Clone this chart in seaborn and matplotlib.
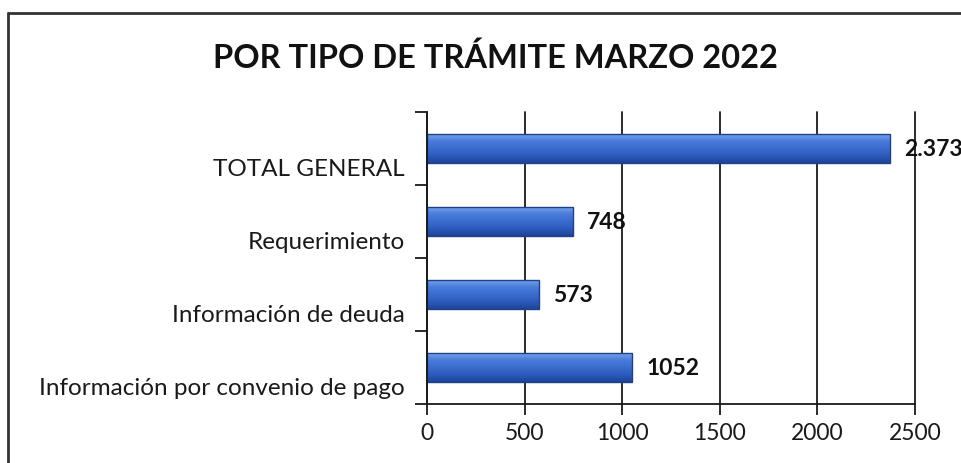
import matplotlib
matplotlib.use("Agg")
import matplotlib.pyplot as plt
import matplotlib.lines as mlines
import matplotlib.transforms as mtransforms
from matplotlib.colors import LinearSegmentedColormap
from matplotlib.ticker import FixedLocator
import numpy as np
import pandas as pd
import seaborn as sns

# data
categories = ["TOTAL GENERAL", "Requerimiento", "Información de deuda",
              "Información por convenio de pago"]
values = [2373, 748, 573, 1052]
value_labels = ["2.373", "748", "573", "1052"]
x_ticks = [0, 500, 1000, 1500, 2000, 2500]
title = "POR TIPO DE TRÁMITE MARZO 2022"

sns.set_style("white")
plt.rcParams["font.family"] = ["Lato", "DejaVu Sans"]

df = pd.DataFrame({"tramite": categories, "cantidad": values})

fig = plt.figure(figsize=(9.61, 4.64), dpi=100)
ax = fig.add_axes([427 / 961, 1 - 405 / 464, 488 / 961, 292 / 464])

sns.barplot(data=df, x="cantidad", y="tramite", order=categories, ax=ax,
            color="#3a6ccc", edgecolor="#1e4288", linewidth=1.0,
            width=0.40, saturation=1)

ax.set_xlim(0, 2500)
ax.set_ylim(3.5, -0.5)
ax.xaxis.set_major_locator(FixedLocator(x_ticks))
ax.set_xticklabels([str(t) for t in x_ticks], fontsize=16.5)
ax.set_xlabel("")
ax.set_ylabel("")

# glossy vertical gradient on each bar, clipped to the bar itself
bar_cmap = LinearSegmentedColormap.from_list(
    "bar", ["#7fa8ee", "#4a7ddb", "#3a6dcf", "#2d5bbd", "#1f4499"])
grad = np.linspace(0, 1, 64).reshape(-1, 1)
for patch in list(ax.patches):
    bb = patch.get_bbox()
    im = ax.imshow(grad, cmap=bar_cmap, aspect="auto", origin="upper",
                   extent=[bb.x0, bb.x1, bb.y1, bb.y0], zorder=patch.get_zorder())
    im.set_clip_path(patch)
    patch.set_facecolor("none")
    patch.set_zorder(patch.get_zorder() + 0.1)
ax.set_xlim(0, 2500)
ax.set_ylim(3.5, -0.5)

# vertical gridlines
ax.grid(axis="x", color="#1a1a1a", linewidth=1.3)
ax.grid(axis="y", visible=False)
ax.set_axisbelow(True)
for gl in ax.get_xgridlines():
    gl.set_clip_on(False)

# ticks: labels at category centres (drawn a bit low, as in the original), tick marks at boundaries
ax.tick_params(axis="y", which="major", length=0, labelsize=17.5, pad=16)
offset = mtransforms.ScaledTranslation(0, -0.18, fig.dpi_scale_trans)
for lbl in ax.get_yticklabels():
    lbl.set_transform(lbl.get_transform() + offset)
    lbl.set_color("#1a1a1a")
ax.yaxis.set_minor_locator(FixedLocator([-0.5, 0.5, 1.5, 2.5, 3.5]))
ax.tick_params(axis="y", which="minor", length=9, width=1.3, color="#1a1a1a",
               direction="out", left=True)
ax.tick_params(axis="x", which="major", length=8, width=1.3, color="#1a1a1a",
               direction="out", bottom=True, labelsize=16.5, pad=5,
               labelcolor="#1a1a1a")

for side in ["top", "right"]:
    ax.spines[side].set_visible(False)
for side in ["left", "bottom"]:
    ax.spines[side].set_color("#1a1a1a")
    ax.spines[side].set_linewidth(1.3)

ax.bar_label(ax.containers[0], labels=value_labels, padding=10,
             fontsize=16.5, fontweight="bold", color="#111111", clip_on=False)

fig.text(495 / 961, 1 - 58 / 464, title, ha="center", va="center",
         fontsize=23.5, fontweight="bold", color="#111111")

# outer frame of the chart (cut off at right and bottom)
fig.add_artist(mlines.Line2D([8 / 961, 8 / 961], [0, 1 - 14 / 464],
                             transform=fig.transFigure, color="#333333", linewidth=2))
fig.add_artist(mlines.Line2D([8 / 961, 1], [1 - 14 / 464, 1 - 14 / 464],
                             transform=fig.transFigure, color="#333333", linewidth=2))

fig.savefig("out.png", dpi=100)
